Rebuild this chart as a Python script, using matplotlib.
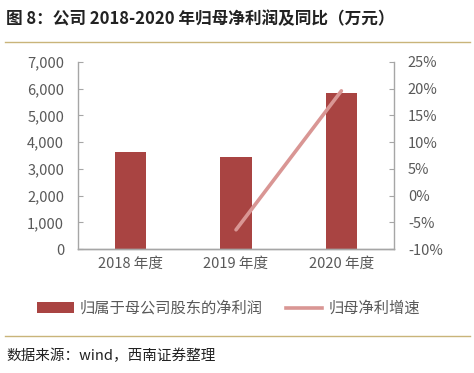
import matplotlib
matplotlib.use("Agg")
import matplotlib.pyplot as plt
from matplotlib.patches import Patch
from matplotlib.lines import Line2D
from matplotlib.ticker import FuncFormatter

plt.rcParams['font.family'] = ['Noto Sans CJK SC', 'DejaVu Sans']

years = ["2018 年度", "2019 年度", "2020 年度"]
profit = [3640, 3430, 5840]          # 万元
growth_years = [1, 2]
growth = [-6.4, 19.6]                # %

bar_color = "#A94442"
line_color = "#D99694"
gray = "#595959"
spine_gray = "#A6A6A6"
gold = "#C9B47A"

fig = plt.figure(figsize=(4.74, 3.73), dpi=100)
ax = fig.add_axes([0.1646, 0.3324, 0.6667, 0.5014])
ax2 = ax.twinx()

x = list(range(len(years)))
ax.bar(x, profit, width=0.30, color=bar_color, zorder=2)
ax2.plot(growth_years, growth, color=line_color, linewidth=2.6, solid_capstyle='round', zorder=3)

ax.set_xlim(-0.5, 2.5)
ax.set_ylim(0, 7000)
ax.set_yticks(range(0, 7001, 1000))
ax.yaxis.set_major_formatter(FuncFormatter(lambda v, p: f"{int(v):,}"))
ax2.set_ylim(-10, 25)
ax2.set_yticks(range(-10, 26, 5))
ax2.yaxis.set_major_formatter(FuncFormatter(lambda v, p: f"{int(v)}%"))
ax.set_xticks(x)
ax.set_xticklabels(years)

for a in (ax, ax2):
    a.spines['top'].set_visible(False)
    for s in ('left', 'right', 'bottom'):
        a.spines[s].set_color(spine_gray)
        a.spines[s].set_linewidth(1.0)
    a.tick_params(axis='y', direction='in', length=3.5, color=spine_gray,
                  labelsize=10.5, labelcolor=gray, pad=10)
ax.tick_params(axis='x', length=0, labelsize=10.5, labelcolor=gray, pad=6)
ax.spines['right'].set_visible(False)
ax2.spines['left'].set_visible(False)
ax2.set_zorder(ax.get_zorder() + 1)
ax2.patch.set_visible(False)

# title and rules
fig.text(0.013, 0.950, "图 8：公司 2018-2020 年归母净利润及同比（万元）",
         fontsize=12, fontweight='bold', color="#222222", va='center', ha='left')
fig.add_artist(Line2D([0.011, 0.992], [0.887, 0.887], color=gold, linewidth=1.0))
fig.add_artist(Line2D([0.011, 0.992], [0.099, 0.099], color=gold, linewidth=1.0))

handles = [Patch(facecolor=bar_color, edgecolor='none'),
           Line2D([0], [0], color=line_color, linewidth=2.6)]
fig.legend(handles, ["归属于母公司股东的净利润", "归母净利增速"],
           loc='center', bbox_to_anchor=(0.482, 0.173), ncol=2, frameon=False,
           fontsize=11, labelcolor=gray, handlelength=2.4, handleheight=0.7,
           columnspacing=1.5, handletextpad=0.4)

fig.text(0.013, 0.047, "数据来源：wind，西南证券整理", fontsize=10.5,
         color="#222222", va='center', ha='left', style='italic')

fig.savefig("out.png", dpi=100)
